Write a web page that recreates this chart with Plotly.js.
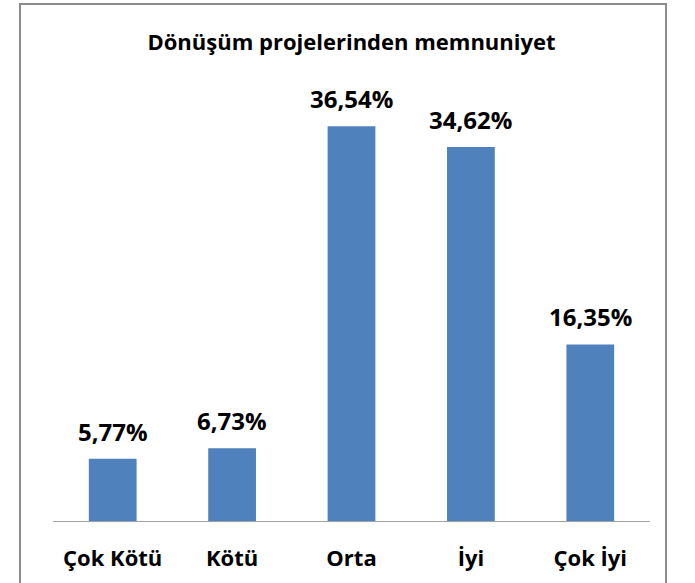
<!DOCTYPE html>
<html>
<head>
<meta charset="utf-8">
<script src="https://cdn.plot.ly/plotly-3.0.1.min.js"></script>
<style>
html,body{margin:0;padding:0;background:#fff;}
#chart{width:695px;height:583px;}
</style>
</head>
<body>
<div id="chart"></div>
<script>
const categories = ["Çok Kötü", "Kötü", "Orta", "İyi", "Çok İyi"];
const values = [5.77, 6.73, 36.54, 34.62, 16.35];
const chartTitle = "Dönüşüm projelerinden memnuniyet";

const fontFamily = "Open Sans, Liberation Sans, sans-serif";

const annotations = categories.map((c, i) => ({
  x: c, y: values[i], xref: "x", yref: "y",
  text: values[i].toFixed(2).replace(".", ",") + "%",
  showarrow: false, yanchor: "bottom", yshift: 9,
  font: {family: fontFamily, size: 24, color: "#000", weight: "bold"}
}));

const L = 53, R = 650, T = 89, B = 521, W = 695, H = 583;
const pw = R - L, ph = B - T;
const px = v => (v - L) / pw;
const py = v => (B - v) / ph;

const layout = {
  width: W, height: H,
  margin: {l: L, r: W - R, t: T, b: H - B, pad: 0},
  paper_bgcolor: "#fff", plot_bgcolor: "#fff",
  separators: ",.",
  showlegend: false,
  bargap: 0.6,
  title: {
    text: chartTitle,
    font: {family: fontFamily, size: 22, color: "#000", weight: "bold"},
    x: 0.5, xanchor: "center", xref: "paper",
    y: 1 - 42 / H, yanchor: "middle", yref: "container"
  },
  xaxis: {
    type: "category",
    showline: true, linecolor: "#a0a0a0", linewidth: 1,
    ticks: "outside", ticklen: 18, tickcolor: "rgba(0,0,0,0)",
    tickfont: {family: fontFamily, size: 22, color: "#000", weight: "bold"},
    showgrid: false, zeroline: false, fixedrange: true
  },
  yaxis: {
    range: [0, 40], visible: false, showgrid: false, zeroline: false, fixedrange: true
  },
  annotations: annotations,
  shapes: [{
    type: "rect", xref: "paper", yref: "paper",
    x0: px(20), x1: px(666), y0: py(600), y1: py(4),
    line: {color: "#8c8c8c", width: 2}, fillcolor: "rgba(0,0,0,0)", layer: "above"
  }]
};

Plotly.newPlot("chart", [{
  type: "bar",
  x: categories, y: values,
  marker: {color: "#4F81BD", line: {width: 0}},
  hoverinfo: "skip"
}], layout, {displayModeBar: false, staticPlot: true});
</script>
</body>
</html>
